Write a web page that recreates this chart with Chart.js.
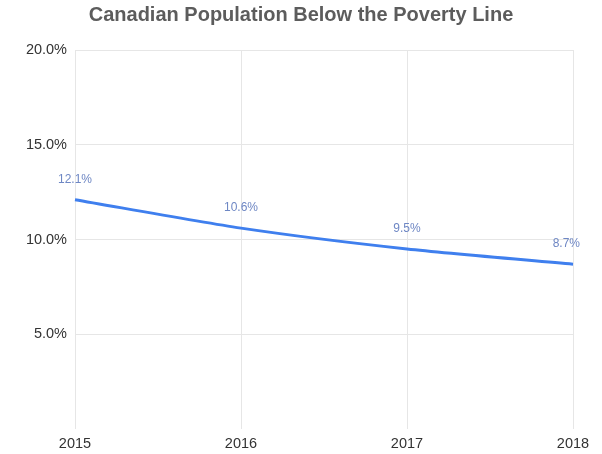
<!DOCTYPE html>
<html>
<head>
<meta charset="utf-8">
<script src="https://cdn.jsdelivr.net/npm/chart.js@4/dist/chart.umd.min.js"></script>
<style>
  html, body { margin: 0; padding: 0; background: #fff; }
  #wrap { width: 602px; height: 454px; }
</style>
</head>
<body>
<div id="wrap"><canvas id="grafikKemiskinan" width="602" height="454"></canvas></div>
<script>
const years = ["2015", "2016", "2017", "2018"];
const povertyRate = [12.1, 10.6, 9.5, 8.7];
const yTicks = [0, 5, 10, 15, 20];
const chartTitle = "Canadian Population Below the Poverty Line";

const FONT = "'Liberation Sans', Arial, sans-serif";

// judul di tengah kanvas (bukan di tengah area grafik)
const centerTitle = {
  id: "centerTitle",
  afterDraw(chart) {
    const ctx = chart.ctx;
    ctx.save();
    ctx.font = "bold 20px " + FONT;
    ctx.fillStyle = "#5c5c5c";
    ctx.textAlign = "center";
    ctx.textBaseline = "middle";
    ctx.fillText(chartTitle, chart.width / 2, 15);
    ctx.restore();
  },
};

// tulis label nilai di atas tiap titik
const valueLabels = {
  id: "valueLabels",
  afterDatasetsDraw(chart) {
    const ctx = chart.ctx;
    const meta = chart.getDatasetMeta(0);
    const last = meta.data.length - 1;
    ctx.save();
    ctx.font = "12px " + FONT;
    ctx.fillStyle = "#6e87c4";
    ctx.textBaseline = "middle";
    meta.data.forEach((pt, i) => {
      const text = povertyRate[i].toFixed(1) + "%";
      if (i === last) {
        // label terakhir jangan keluar dari area grafik
        ctx.textAlign = "right";
        ctx.fillText(text, pt.x + 7, pt.y - 20);
      } else {
        ctx.textAlign = "center";
        ctx.fillText(text, pt.x, pt.y - 20);
      }
    });
    ctx.restore();
  },
};

const ctx = document.getElementById("grafikKemiskinan").getContext("2d");
new Chart(ctx, {
  type: "line",
  data: {
    labels: years,
    datasets: [
      {
        label: "Below poverty line",
        data: povertyRate,
        borderColor: "#3f7fee",
        borderWidth: 3,
        pointRadius: 0,
        tension: 0.25,
        fill: false,
      },
    ],
  },
  plugins: [valueLabels, centerTitle],
  options: {
    responsive: false,
    animation: false,
    layout: { padding: { top: 50, right: 29, bottom: 2, left: 0 } },
    plugins: {
      legend: { display: false },
      tooltip: { enabled: false },
      title: { display: false },
    },
    scales: {
      x: {
        offset: false,
        grid: { color: "#e6e6e6", drawTicks: false },
        border: { display: false },
        ticks: {
          color: "#333",
          padding: 6,
          maxRotation: 0,
          font: { family: FONT, size: 14.5 },
        },
        afterFit: (scale) => { scale.height = 23; },
      },
      y: {
        min: 0,
        max: 20,
        afterBuildTicks: (scale) => { scale.ticks = yTicks.map((v) => ({ value: v })); },
        grid: {
          color: (c) => (c.tick && c.tick.value === 0 ? "rgba(0,0,0,0)" : "#e6e6e6"),
          drawTicks: false,
        },
        border: { display: false },
        ticks: {
          color: "#333",
          padding: 8,
          font: { family: FONT, size: 14.5 },
          callback: (v) => (v === 0 ? "" : v.toFixed(1) + "%"),
        },
        afterFit: (scale) => { scale.width = 75; },
      },
    },
  },
});
</script>
</body>
</html>
